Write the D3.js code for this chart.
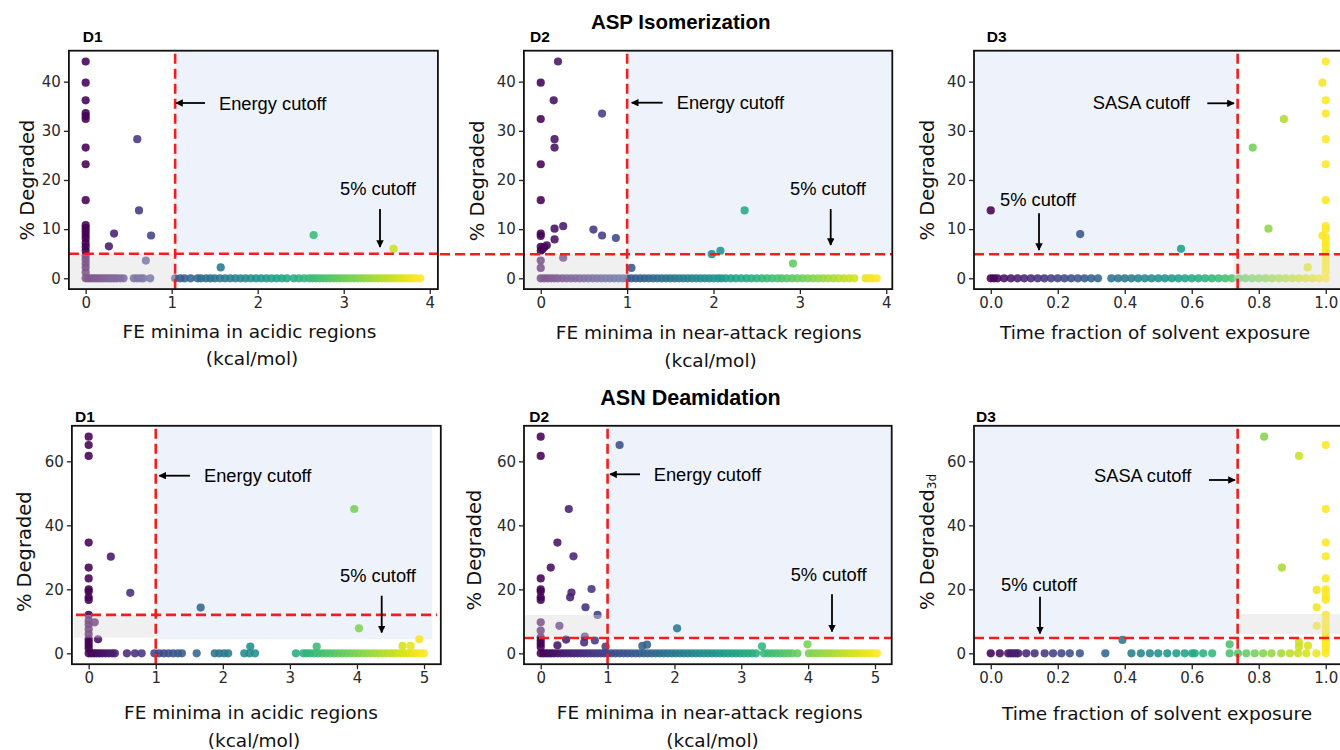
<!DOCTYPE html>
<html><head><meta charset="utf-8">
<script src="https://cdn.jsdelivr.net/npm/d3@7"></script>
<style>body{margin:0;background:#fff} svg{display:block}</style>
</head><body><svg id="c" width="1340" height="750"></svg>
<script>
// ---------------- DATA ----------------
// [x, %degraded] for points above the zero row
const aspD1Pts = [[0,44.1],[0,39.8],[0,36.2],[0,33.6],[0,33.0],[0,32.4],[0,26.6],[0,23.2],[0,15.9],[0,10.8],[0,10.2],[0,9.5],[0,8.8],[0,8.1],[0,7.2],[0,6.4],[0,5.6],[0,4.6],[0,3.8],[0,3.0],[0,2.2],[0,1.2],
  [0.60,28.3],[0.62,13.8],[0.33,9.1],[0.76,8.7],[0.27,6.5],[0.70,3.6],[2.65,8.8],[3.58,6.0],[1.57,2.2]];
const aspD1Zero = [0,0.03,0.06,0.09,0.12,0.15,0.18,0.21,0.24,0.27,0.30,0.33,0.36,0.40,0.44,0.56,0.60,0.64,0.67,0.75,
  1.04,1.10,1.15,1.22,1.30,1.34,1.40,1.45,1.50,1.56,1.62,1.68,1.74,1.80,1.86,1.92,1.98,2.04,2.10,2.16,2.22,2.28,2.34,2.42,2.48,2.54,2.60,2.64,2.68,2.72,2.76,2.80,2.84,2.88,2.92,2.96,3.00,3.04,3.08,3.12,3.16,3.20,3.24,3.28,3.32,3.36,3.40,3.44,3.48,3.52,3.56,3.60,3.64,3.68,3.72,3.76,3.80,3.84,3.89];

const aspD2Pts = [[0.20,44.1],[0,39.8],[0.15,36.2],[0.71,33.5],[0,32.4],[0.16,28.3],[0.16,26.6],[0,23.2],[0,15.9],[2.36,13.8],[0.26,10.6],[0.16,10.1],[0,9.1],[0,8.6],[0.61,9.9],[0.71,8.7],[0.87,8.2],[0.16,7.9],[0.07,6.7],[0,6.4],[0.02,5.9],[0.04,6.3],[0,5.6],[1.98,4.9],[2.08,5.6],[2.92,3.0],[1.05,2.1],[0.26,4.2],[0,3.6],[0,2.1]];
const aspD2Zero = [0,0.04,0.08,0.12,0.16,0.20,0.25,0.30,0.35,0.40,0.45,0.50,0.55,0.60,0.65,0.70,0.75,0.80,0.85,0.90,0.95,1.00,1.05,1.10,1.15,1.20,1.25,1.30,1.35,1.40,1.45,1.50,1.55,1.60,1.65,1.70,1.75,1.80,1.85,1.90,1.95,2.00,2.05,2.09,
  2.14,2.20,2.26,2.32,2.38,2.44,2.50,2.56,2.62,2.68,2.74,2.79,2.85,2.91,2.97,3.03,3.09,3.15,3.21,3.27,3.33,3.39,3.45,3.51,3.57,3.63,3.76,3.80,3.84,3.89];

const aspD3Pts = [[0.0,13.8],[0.267,9.0],[0.568,6.0],[0.782,26.6],[0.875,32.4],[0.829,10.1],[0.946,2.2],[1,44.1],[0.99,39.8],[1,36.2],[1,33.5],[1,28.3],[1,23.2],[1,15.9],[1,10.6],[1,10.0],[0.99,8.7],[1,8.4],[1,7.6],[1,6.8],[1,6.0],[1,5.2],[1,4.4],[1,3.6],[1,2.8],[1,2.0],[1,1.2]];
const aspD3Zero = [0,0.01,0.02,0.04,0.06,0.08,0.10,0.12,0.14,0.16,0.18,0.20,0.22,0.24,0.26,0.28,0.30,0.32,0.36,0.38,0.40,0.42,0.44,0.46,0.48,0.50,0.52,0.54,0.56,0.58,0.60,0.62,0.64,0.66,0.68,0.70,0.72,0.74,0.76,0.78,0.80,0.82,0.84,0.86,0.88,0.90,0.92,0.94,0.96,0.98,1.00];

const asnD1Pts = [[0,67.7],[0,65.1],[0,61.7],[0,34.6],[0,26.8],[0,23.4],[0,20.0],[0,19.3],[0,17.5],[0,16.7],[0,12.0],[0,10.2],[0,9.0],[0,7.5],[0,6.0],[0,4.5],[0,3.5],[0,2.5],[0,1.5],
  [0.33,30.2],[0.62,18.9],[1.67,14.3],[3.96,45.1],[4.03,7.8],[0.09,9.7],[0.14,4.4],[2.41,2.1],[3.40,2.1],[4.68,2.3],[4.80,2.3],[4.93,4.4]];
const asnD1Zero = [0,0.04,0.08,0.12,0.16,0.20,0.25,0.30,0.35,0.39,0.57,0.69,0.79,0.98,1.05,1.12,1.19,1.26,1.33,1.39,1.61,1.88,1.95,2.02,2.08,2.32,2.40,2.48,3.09,
  3.20,3.25,3.30,3.36,3.42,3.48,3.54,3.60,3.66,3.72,3.78,3.84,3.90,3.96,4.02,4.08,4.14,4.20,4.26,4.32,4.38,4.44,4.50,4.55,4.60,4.65,4.70,4.75,4.80,4.85,4.90,4.95,5.00];

const asnD2Pts = [[0,67.7],[0,61.7],[1.18,65.1],[0.42,45.1],[0.25,34.6],[0.49,30.3],[0.15,26.8],[0,23.4],[0,20.0],[0,19.3],[0,17.5],[0,16.7],[0.76,20.1],[0.46,19.0],[0.44,17.5],[0.67,14.4],[0.85,12.0],[0,9.7],[0,7.1],[0.28,8.6],[2.04,7.8],[0.66,5.2],[0.38,4.3],[0.65,3.4],[0.81,4.0],[0.25,2.5],[0,5.0],[0,4.0],[0,3.0],[0,2.0],[1.52,2.3],[1.59,2.7],[3.31,2.2],[3.99,2.8],[0.97,2.1]];
const asnD2Zero = [0,0.04,0.08,0.12,0.16,0.20,0.25,0.30,0.35,0.40,0.45,0.50,0.55,0.60,0.65,0.70,0.75,0.80,0.85,0.90,0.95,1.00,1.06,1.12,1.18,1.24,1.30,1.36,1.42,1.48,1.54,1.60,1.66,1.72,1.78,1.84,1.90,1.96,2.02,2.08,2.14,2.20,2.26,2.32,2.38,2.44,2.50,2.56,2.62,2.68,2.74,2.80,2.86,2.92,2.98,3.04,3.10,3.16,3.22,
  3.34,3.40,3.46,3.52,3.58,3.64,3.70,3.76,3.84,4.01,4.07,4.13,4.19,4.25,4.31,4.37,4.43,4.49,4.55,4.61,4.67,4.73,4.79,4.85,4.91,4.97,5.03];

const asnD3Pts = [[0.816,67.7],[1,65.1],[0.92,61.7],[1,45.1],[1,34.6],[1,30.3],[0.869,26.8],[1,23.4],[0.973,19.8],[1,20.0],[1,19.0],[1,17.5],[1,16.7],[0.973,14.4],[1,12.0],[1,10.8],[1,9.7],[0.973,8.6],[1,8.5],[1,7.3],[1,6.2],[1,5.0],[1,4.0],[1,3.0],[1,2.0],[1,1.0],[0.393,4.2],[0.713,2.8],[0.92,3.5],[0.947,2.4],[0.92,2.0]];
const asnD3Zero = [0.0,0.027,0.052,0.060,0.067,0.075,0.082,0.106,0.131,0.161,0.186,0.211,0.236,0.266,0.342,0.42,0.448,0.475,0.50,0.527,0.554,0.579,0.601,0.609,0.634,0.661,0.713,0.738,0.763,0.788,0.813,0.838,0.867,0.893,0.917,0.942,0.972,1.0];

const ticksTopY = [0,10,20,30,40];
const ticksBotY = [0,20,40,60];
const ticksFE4 = [0,1,2,3,4];
const ticksFE5 = [0,1,2,3,4,5];
const ticksFrac = [0,0.2,0.4,0.6,0.8,1.0];

const titles = ["ASP Isomerization", "ASN Deamidation"];
const xLabelAcidic = ["FE minima in acidic regions", "(kcal/mol)"];
const xLabelNear = ["FE minima in near-attack regions", "(kcal/mol)"];
const xLabelFrac = ["Time fraction of solvent exposure"];

// ---------------- LAYOUT ----------------
const panels = [
 {id:1, tag:"D1", pts:aspD1Pts, zero:aspD1Zero, cmax:3.89, xd:[-0.195,4.095], xr:[68.9,437.9], yd:[-2.2,46.3], yr:[289.1,50.7],
  xt:ticksFE4, yt:ticksTopY, fmt:d3.format("d"), vcut:1.04, hcut:5.0, hExt:[68.9,437.9],
  gray:[[null,1.04],[null,5]], blue:[[1.04,null],[5,null]],
  xl:xLabelAcidic, xlPos:[[249.5,331.7],[252,358]], ylPos:[26.7,180], tagPos:[82.7,36],
  ann:[{t:"Energy cutoff",x:219,y:103,a:[205,103,176,103]},{t:"5% cutoff",x:340,y:188,a:[380,209,380,247]}]},
 {id:2, tag:"D2", pts:aspD2Pts, zero:aspD2Zero, cmax:3.89, xd:[-0.195,4.07], xr:[523.9,892.3], yd:[-2.2,46.3], yr:[289.1,50.7],
  xt:ticksFE4, yt:ticksTopY, fmt:d3.format("d"), vcut:1.0, hcut:4.9, hExt:[440,893],
  gray:[[null,1.0],[null,4.9]], blue:[[1.0,null],[4.9,null]],
  xl:xLabelNear, xlPos:[[708.7,332.3],[710.5,360]], ylPos:[476.7,180.8], tagPos:[530,36],
  ann:[{t:"Energy cutoff",x:676.7,y:102.7,a:[662.7,102.7,631.7,102.7]},{t:"5% cutoff",x:790,y:188,a:[830.7,209,830.7,245]}]},
 {id:3, tag:"D3", pts:aspD3Pts, zero:aspD3Zero, cmax:1.0, xd:[-0.05,1.05], xr:[974,1342.5], yd:[-2.2,46.3], yr:[289.1,50.7],
  xt:ticksFrac, yt:ticksTopY, fmt:d3.format(".1f"), vcut:0.737, hcut:4.9, hExt:[974,1342],
  gray:[[0.725,null],[null,4.9]], blue:[[null,0.737],[4.9,null]],
  xl:xLabelFrac, xlPos:[[1155,332.3]], ylPos:[926.7,180], tagPos:[986.7,36],
  ann:[{t:"SASA cutoff",x:1092.7,y:102.7,a:[1207.3,103.3,1234,103.3]},{t:"5% cutoff",x:1000,y:199.3,a:[1039,213.3,1039,250]}]},
 {id:4, tag:"D1", pts:asnD1Pts, zero:asnD1Zero, cmax:5.0, xd:[-0.25,5.25], xr:[71.9,440.8], yd:[-3.4,71.1], yr:[664.2,425.8],
  xt:ticksFE5, yt:ticksBotY, fmt:d3.format("d"), vcut:1.0, hcut:12.0, hExt:[76,437],
  gray:[[-0.22,0.99],[4.9,12]], blue:[[1.0,5.12],[4.4,null]],
  xl:xLabelAcidic, xlPos:[[251,712.7],[254,740]], ylPos:[24,551.7], tagPos:[75,416.7],
  ann:[{t:"Energy cutoff",x:204,y:475.7,a:[190,475.7,159.3,475.7]},{t:"5% cutoff",x:340,y:575.7,a:[381.7,595.7,381.7,632.5]}]},
 {id:5, tag:"D2", pts:asnD2Pts, zero:asnD2Zero, cmax:5.03, xd:[-0.25,5.25], xr:[524,891.7], yd:[-3.4,71.1], yr:[664.2,425.8],
  xt:ticksFE5, yt:ticksBotY, fmt:d3.format("d"), vcut:1.0, hcut:4.8, hExt:[524,892],
  gray:[[null,1.0],[5.2,12]], blue:[[1.0,null],[4.8,null]],
  xl:xLabelNear, xlPos:[[709.7,712.7],[712.5,740]], ylPos:[474.3,550], tagPos:[529.3,416],
  ann:[{t:"Energy cutoff",x:653.7,y:474.3,a:[640,474.3,610,474.3]},{t:"5% cutoff",x:790.7,y:574.3,a:[832,594.3,832,631.5]}]},
 {id:6, tag:"D3", pts:asnD3Pts, zero:asnD3Zero, cmax:1.0, xd:[-0.05,1.05], xr:[974,1342.5], yd:[-3.4,71.1], yr:[664.2,425.8],
  xt:ticksFrac, yt:ticksBotY, fmt:d3.format(".1f"), vcut:0.737, hcut:4.8, hExt:[974,1342],
  gray:[[0.743,null],[6.0,12.2]], blue:[[null,0.737],[4.8,null]],
  xl:xLabelFrac, xlPos:[[1157,713.3]], ylPos:[926.7,542], tagPos:[976,416], sub:"3d",
  ann:[{t:"SASA cutoff",x:1094,y:475.7,a:[1209,480,1235,480]},{t:"5% cutoff",x:1001,y:584.3,a:[1040,596.7,1040,633.5]}]}
];

const AX_FONT = "DejaVu Sans, sans-serif";
const ANN_FONT = "Liberation Sans, Arial, sans-serif";

const svg = d3.select('#c');
const defs = svg.append('defs');
defs.append('marker').attr('id','ah').attr('viewBox','0 0 10 10').attr('refX',9).attr('refY',5)
  .attr('markerWidth',4.2).attr('markerHeight',4.2).attr('orient','auto-start-reverse')
  .append('path').attr('d','M0,0 L10,5 L0,10 z').attr('fill','#000');

panels.forEach(p => {
  const x = d3.scaleLinear().domain(p.xd).range(p.xr);
  const y = d3.scaleLinear().domain(p.yd).range(p.yr);
  const g = svg.append('g');
  const cid = 'clip' + p.id;
  defs.append('clipPath').attr('id', cid).append('rect')
    .attr('x', p.xr[0]).attr('y', p.yr[1]).attr('width', p.xr[1]-p.xr[0]).attr('height', p.yr[0]-p.yr[1]);
  const inner = g.append('g').attr('clip-path', `url(#${cid})`);
  const rectOf = (spec) => {
    const xa = spec[0][0] === null ? p.xd[0] : spec[0][0];
    const xb = spec[0][1] === null ? p.xd[1] : spec[0][1];
    const ya = spec[1][0] === null ? p.yd[0] : spec[1][0];
    const yb = spec[1][1] === null ? p.yd[1] : spec[1][1];
    return {x: x(xa), y: y(yb), w: x(xb)-x(xa), h: y(ya)-y(yb)};
  };
  const b = rectOf(p.blue);
  inner.append('rect').attr('x',b.x).attr('y',b.y).attr('width',b.w).attr('height',b.h).attr('fill','#eef3fb');
  const gr = rectOf(p.gray);
  inner.append('rect').attr('x',gr.x).attr('y',gr.y).attr('width',gr.w).attr('height',gr.h).attr('fill','#f7f7f7');

  const all = p.zero.map(v => [v, 0]).concat(p.pts);
  inner.selectAll('circle').data(all).join('circle')
    .attr('cx', d => x(d[0])).attr('cy', d => y(d[1])).attr('r', 4.1)
    .attr('fill', d => d3.interpolateViridis(Math.max(0, Math.min(1, d[0]/p.cmax))))
    .attr('fill-opacity', 0.88);

  // gray overlay fades the points beneath
  inner.append('rect').attr('x',gr.x).attr('y',gr.y).attr('width',gr.w).attr('height',gr.h)
    .attr('fill','#e4e4e4').attr('opacity',0.38);

  // cutoffs
  inner.append('line').attr('x1', x(p.vcut)).attr('x2', x(p.vcut)).attr('y1', p.yr[1]+3).attr('y2', p.yr[0])
    .attr('stroke','#f21d1d').attr('stroke-width',2.6).attr('stroke-dasharray','10,5');
  g.append('line').attr('x1', p.hExt[0]).attr('x2', p.hExt[1]).attr('y1', y(p.hcut)).attr('y2', y(p.hcut))
    .attr('stroke','#f21d1d').attr('stroke-width',2.6).attr('stroke-dasharray','10,5');

  // frame
  g.append('rect').attr('x',p.xr[0]).attr('y',p.yr[1]).attr('width',p.xr[1]-p.xr[0]).attr('height',p.yr[0]-p.yr[1])
    .attr('fill','none').attr('stroke','#111').attr('stroke-width',1.8);

  // axes
  const xa = g.append('g').attr('transform',`translate(0,${p.yr[0]})`)
    .call(d3.axisBottom(x).tickValues(p.xt).tickFormat(p.fmt).tickSize(5).tickPadding(3).tickSizeOuter(0));
  const ya = g.append('g').attr('transform',`translate(${p.xr[0]},0)`)
    .call(d3.axisLeft(y).tickValues(p.yt).tickFormat(d3.format("d")).tickSize(5).tickPadding(3).tickSizeOuter(0));
  [xa, ya].forEach(a => {
    a.select('.domain').remove();
    a.selectAll('line').attr('stroke','#222').attr('stroke-width',1.3);
    a.selectAll('text').attr('font-family', AX_FONT).attr('font-size', 15).attr('fill','#2a2a2a');
  });

  // axis labels
  p.xl.forEach((t, i) => {
    g.append('text').attr('x', p.xlPos[i][0]).attr('y', p.xlPos[i][1]).attr('text-anchor','middle')
      .attr('dominant-baseline','central').attr('font-family', AX_FONT).attr('font-size', 18.5).attr('fill','#111').text(t);
  });
  const yl = g.append('text').attr('transform', `translate(${p.ylPos[0]},${p.ylPos[1]}) rotate(-90)`)
    .attr('text-anchor','middle').attr('dominant-baseline','central')
    .attr('font-family', AX_FONT).attr('font-size', 19.5).attr('fill','#111');
  yl.append('tspan').text('% Degraded');
  if (p.sub) yl.append('tspan').attr('font-size', 12).attr('dy', 5).text(p.sub);

  // panel tag
  g.append('text').attr('x', p.tagPos[0]).attr('y', p.tagPos[1]).attr('dominant-baseline','central')
    .attr('font-family', ANN_FONT).attr('font-weight','bold').attr('font-size', 15.5).attr('fill','#000').text(p.tag);

  // annotations
  p.ann.forEach(a => {
    g.append('text').attr('x', a.x).attr('y', a.y).attr('dominant-baseline','central')
      .attr('font-family', ANN_FONT).attr('font-size', 18.3).attr('fill','#000').text(a.t);
    g.append('line').attr('x1', a.a[0]).attr('y1', a.a[1]).attr('x2', a.a[2]).attr('y2', a.a[3])
      .attr('stroke','#000').attr('stroke-width',1.8).attr('marker-end','url(#ah)');
  });
});

// figure titles
svg.append('text').attr('x', 680.7).attr('y', 21).attr('text-anchor','middle').attr('dominant-baseline','central')
  .attr('font-family', ANN_FONT).attr('font-weight','bold').attr('font-size', 20.5).text(titles[0]);
svg.append('text').attr('x', 690.5).attr('y', 398).attr('text-anchor','middle').attr('dominant-baseline','central')
  .attr('font-family', ANN_FONT).attr('font-weight','bold').attr('font-size', 21.5).text(titles[1]);
</script></body></html>
